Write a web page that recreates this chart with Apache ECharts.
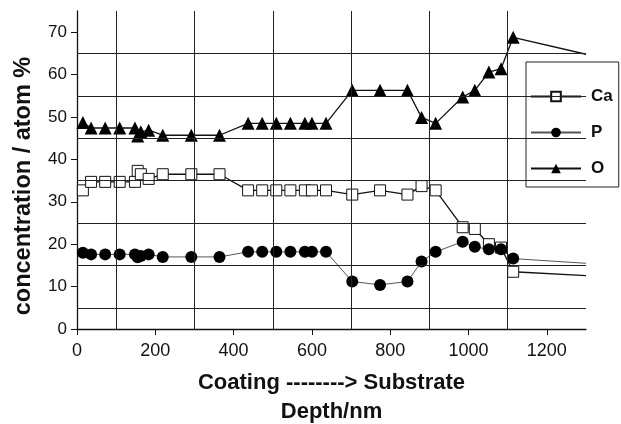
<!DOCTYPE html>
<html>
<head>
<meta charset="utf-8">
<script src="https://cdn.jsdelivr.net/npm/echarts@6/dist/echarts.min.js"></script>
<style>html,body{margin:0;padding:0;background:#fff}#c{width:621px;height:424px}</style>
</head>
<body>
<div id="c"></div>
<script>
// Depth (nm)
var depth = [15, 36, 72, 109, 148, 155, 163, 183, 219, 292, 364, 437, 473, 509, 545, 582, 600, 636, 703, 774, 844, 880, 916, 985, 1016, 1052, 1083, 1114];
var caValues = [32.7, 34.7, 34.7, 34.7, 34.7, 37.3, 36.5, 35.4, 36.5, 36.5, 36.5, 32.7, 32.7, 32.7, 32.7, 32.7, 32.7, 32.7, 31.7, 32.7, 31.7, 33.7, 32.7, 24.0, 23.6, 20.0, 19.2, 13.5];
var pValues = [18.0, 17.6, 17.6, 17.6, 17.6, 16.9, 17.2, 17.6, 17.0, 17.0, 17.0, 18.2, 18.2, 18.2, 18.2, 18.2, 18.2, 18.2, 11.2, 10.4, 11.2, 15.9, 18.2, 20.6, 19.4, 18.8, 18.8, 16.6];
var oValues = [48.7, 47.4, 47.4, 47.4, 47.4, 45.5, 46.5, 46.9, 45.7, 45.7, 45.7, 48.5, 48.5, 48.5, 48.5, 48.5, 48.5, 48.5, 56.3, 56.3, 56.3, 49.9, 48.5, 54.7, 56.3, 60.6, 61.4, 68.8];
// trailing line ends (no marker) at the right edge
var tailDepth = 1300;
var caTail = 12.6, pTail = 15.5, oTail = 64.8;

var xTickLabels = [0, 200, 400, 600, 800, 1000, 1200];
var yTickLabels = [0, 10, 20, 30, 40, 50, 60, 70];
var xGridLines = [100, 300, 500, 700, 900, 1100];
var yGridLines = [5, 15, 25, 35, 45, 55, 65];

function pairs(vals, tail) {
  var out = depth.map(function (d, i) { return [d, vals[i]]; });
  out.push({ value: [tailDepth, tail], symbol: 'none' });
  return out;
}

var font = 'Liberation Sans, Arial, Helvetica, sans-serif';
var chart = echarts.init(document.getElementById('c'), null, { renderer: 'canvas' });

chart.setOption({
  animation: false,
  backgroundColor: '#fff',
  grid: { left: 77, right: 35, top: 11, bottom: 95, outerBoundsMode: 'none', containLabel: false },
  xAxis: {
    type: 'value', min: 0, max: 1300,
    axisLine: { lineStyle: { color: '#111', width: 1.3 } },
    axisTick: { customValues: xTickLabels, length: 6, lineStyle: { color: '#111' } },
    axisLabel: { customValues: xTickLabels, color: '#111', fontSize: 18, fontFamily: font, margin: 13,
      formatter: function (v) { return String(v); } },
    splitLine: { show: false },
    name: 'Coating --------> Substrate\nDepth/nm',
    nameLocation: 'middle', nameGap: 39,
    nameTextStyle: { fontSize: 22, fontWeight: 'bold', fontFamily: font, color: '#111', lineHeight: 29, verticalAlign: 'top' }
  },
  yAxis: {
    type: 'value', min: 0, max: 75,
    axisLine: { show: true, lineStyle: { color: '#111', width: 1.3 } },
    axisTick: { show: true, customValues: yTickLabels, length: 6, lineStyle: { color: '#111' } },
    axisLabel: { customValues: yTickLabels, color: '#111', fontSize: 17, fontFamily: font, margin: 10 },
    splitLine: { show: false },
    name: 'concentration / atom %',
    nameLocation: 'middle', nameGap: 41,
    nameTextStyle: { fontSize: 23.5, fontWeight: 'bold', fontFamily: font, color: '#111', padding: [0, 32, 0, 0] }
  },
  legend: {
    orient: 'vertical', left: 526, top: 62,
    backgroundColor: '#fff', borderColor: '#222', borderWidth: 1,
    padding: [26, 6, 10, 4],
    itemWidth: 50, itemHeight: 12, itemGap: 19,
    textStyle: { fontSize: 17, fontWeight: 'bold', fontFamily: font, color: '#111', padding: [0, 0, 0, 5] },
    data: ['Ca', 'P', 'O']
  },
  series: [
    {
      type: 'line', name: 'grid', silent: true, data: [], z: 1,
      markLine: {
        silent: true, symbol: 'none', animation: false,
        label: { show: false },
        lineStyle: { color: '#222', width: 1, type: 'solid' },
        data: xGridLines.map(function (v) { return { xAxis: v }; })
          .concat(yGridLines.map(function (v) { return { yAxis: v }; }))
      }
    },
    {
      type: 'line', name: 'Ca', z: 3, data: pairs(caValues, caTail),
      symbol: 'rect', symbolSize: 11,
      itemStyle: { color: '#fff', borderColor: '#111', borderWidth: 1 },
      lineStyle: { color: '#111', width: 1.3 }
    },
    {
      type: 'line', name: 'P', z: 3, data: pairs(pValues, pTail),
      symbol: 'circle', symbolSize: 12,
      itemStyle: { color: '#000', borderColor: '#000', borderWidth: 0 },
      lineStyle: { color: '#555', width: 1 }
    },
    {
      type: 'line', name: 'O', z: 3, data: pairs(oValues, oTail),
      symbol: 'triangle', symbolSize: 13,
      itemStyle: { color: '#000', borderColor: '#000', borderWidth: 0 },
      lineStyle: { color: '#111', width: 1.3 }
    }
  ]
});
</script>
</body>
</html>
